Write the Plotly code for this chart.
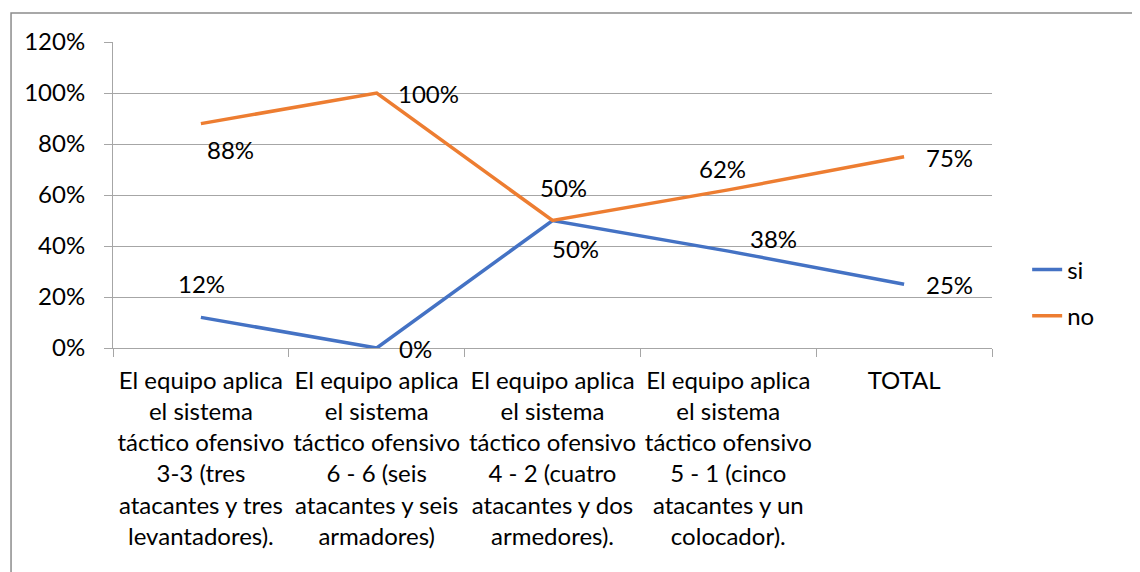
import plotly.graph_objects as go

# Datos
categorias = [
    "El equipo aplica<br>el sistema<br>táctico ofensivo<br>3-3 (tres<br>atacantes y tres<br>levantadores).",
    "El equipo aplica<br>el sistema<br>táctico ofensivo<br>6 - 6 (seis<br>atacantes y seis<br>armadores)",
    "El equipo aplica<br>el sistema<br>táctico ofensivo<br>4 - 2 (cuatro<br>atacantes y dos<br>armedores).",
    "El equipo aplica<br>el sistema<br>táctico ofensivo<br>5 - 1 (cinco<br>atacantes y un<br>colocador).",
    "TOTAL",
]
si = [0.12, 0.00, 0.50, 0.38, 0.25]
no = [0.88, 1.00, 0.50, 0.62, 0.75]

# Desplazamiento (px) de las etiquetas de datos, como en el original
si_shift = [(1, 34), (39, 0), (23, -28), (45, 13), (45, 0)]
no_shift = [(30, -26), (52, 0), (11, 33), (-6, 21), (45, -1)]

FUENTE = "Lato"
TAM = 24
GRIS = "#a6a6a6"

fig = go.Figure()

fig.add_trace(go.Scatter(x=categorias, y=si, name="si", mode="lines",
                         line={"color": "#4472C4", "width": 3.5},
                         legendgroup="si", hoverinfo="skip"))
fig.add_trace(go.Scatter(x=categorias, y=no, name="no", mode="lines",
                         line={"color": "#ED7D31", "width": 3.5},
                         legendgroup="no", hoverinfo="skip"))

# Etiquetas de datos
for serie, desplaz in ((si, si_shift), (no, no_shift)):
    for cat, val, (dx, dy) in zip(categorias, serie, desplaz):
        fig.add_annotation(x=cat, y=val, text=f"{round(val * 100)}%",
                           showarrow=False, xshift=dx, yshift=dy,
                           font={"family": FUENTE, "size": TAM, "color": "black"})

# Marco exterior del gráfico
fig.add_shape(type="rect", xref="paper", yref="paper",
              x0=-0.116, x1=1.3, y0=-1.0, y1=1.095,
              line={"color": "#8c8c8c", "width": 1.5}, layer="below")

# La página añade 8 px de margen al cuerpo; se compensa aquí
fig.update_layout(
    width=1140,
    height=572,
    autosize=False,
    plot_bgcolor="white",
    paper_bgcolor="white",
    font={"family": FUENTE, "size": TAM, "color": "black"},
    margin={"l": 105, "r": 156, "t": 34, "b": 232},
    showlegend=True,
    legend={"x": 1.04, "y": 0.18, "xanchor": "left", "yanchor": "middle",
            "tracegroupgap": 12,
            "font": {"family": FUENTE, "size": TAM, "color": "black"},
            "bgcolor": "rgba(0,0,0,0)"},
    xaxis={"type": "category", "range": [-0.5, 4.5],
           "showgrid": False, "showline": True, "automargin": False,
           "tickangle": 0,
           "linecolor": GRIS, "linewidth": 1, "ticks": "outside",
           "tickson": "boundaries", "ticklen": 8, "tickcolor": GRIS,
           "ticklabelstandoff": 11,
           "tickfont": {"family": FUENTE, "size": TAM}},
    yaxis={"range": [0, 1.2], "dtick": 0.2, "tickformat": ".0%",
           "showgrid": True, "gridcolor": GRIS, "gridwidth": 1,
           "showline": True, "linecolor": GRIS, "linewidth": 1,
           "automargin": False,
           "ticks": "outside", "ticklen": 8, "tickcolor": GRIS,
           "ticklabelstandoff": 14, "zeroline": False,
           "tickfont": {"family": FUENTE, "size": TAM}},
)

fig.write_html("out.html")
